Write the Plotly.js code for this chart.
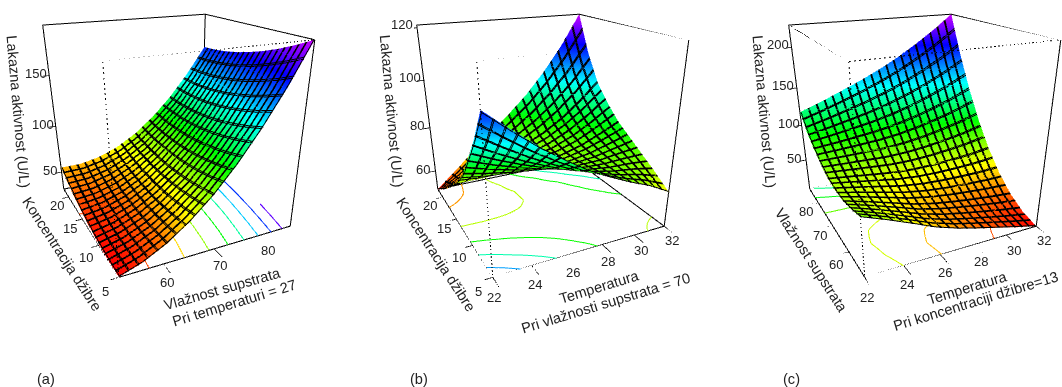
<!DOCTYPE html>
<html><head><meta charset="utf-8">
<script src="https://cdn.plot.ly/plotly-3.0.1.min.js"></script>
<style>html,body{margin:0;padding:0;background:#fff;overflow:hidden}#c{width:1062px;height:387px}</style>
</head><body><div id="c"></div>
<script>
const moistureA=[52,56.375,60.75,65.125,69.5,73.875,78.25,82.625,87];
const concA=[5,7.125,9.25,11.375,13.5,15.625,17.75,19.875,22];
const activityA=[[30,37.4,48.6,63.6,82.3,104.9,131.2,161.2,195],[30,36.5,46.8,60.8,78.7,100.3,125.7,154.8,187.8],[30.8,36.4,45.8,59,75.9,96.6,121.1,149.4,181.4],[32.6,37.3,45.8,58,74.1,93.9,117.4,144.8,175.9],[35.3,39.1,46.7,58,73.1,92,114.7,141.1,171.4],[38.9,41.7,48.4,58.9,73.1,91.1,112.8,138.4,167.7],[43.3,45.3,51.1,60.6,73.9,91,111.9,136.5,164.9],[48.7,49.8,54.7,63.3,75.7,91.9,111.8,135.6,163.1],[55,55.2,59.1,66.8,78.3,93.6,112.7,135.5,162.1]];
const tempB=[22,23.25,24.5,25.75,27,28.25,29.5,30.75,32];
const concB=[5,7.125,9.25,11.375,13.5,15.625,17.75,19.875,22];
const activityB=[[108,100.8,94,88,82.5,78,74,70.5,66],[96,90.9,86.2,82.2,78.6,76,73.9,72.5,70.5],[86,82.7,79.9,77.5,75.5,74.4,74,74.4,74.5],[76.5,75,73.9,73.1,72.6,73,74.2,76.3,78.5],[70,69.8,70.1,70.6,71.3,72.7,75.1,78.6,82.5],[64.5,65.8,67.5,69.2,71.1,73.7,77.4,82.3,88],[59.5,62.3,65.6,68.8,72,75.9,81,87.4,95],[55,59.8,65.1,70.1,75.1,80.7,87.7,96,106],[51,58.25,66,73.25,80.5,88.25,97.5,108.25,121]];
const tempC=[22,23.25,24.5,25.75,27,28.25,29.5,30.75,32];
const moistureC=[52,56.375,60.75,65.125,69.5,73.875,78.25,82.625,87];
const activityC=[[78,67,55,42.5,33,25.5,18.5,11.5,5],[72,62.3,51.8,40.9,32.8,26.7,21.2,15.9,11.3],[68,60.1,51.6,43,36.8,32.5,29,26,23.8],[67.5,61.7,55.6,49.4,45.4,43.3,42.2,41.7,42.2],[70,66.7,63.3,60,58.7,59.1,60.7,63.1,66.8],[77,76.4,76,75.7,77.2,80.4,85,90.5,97.5],[87,89.4,92.4,95.6,100.3,106.6,114.5,123.6,134.3],[100,105.9,112.6,119.6,127.9,137.7,149.4,162.3,177.1],[118,127.5,138,149,161,174.5,190,207,226]];
const xTicksA=[60,70,80],yTicksA=[5,10,15,20],zTicksA=[50,100,150];
const xTicksB=[22,24,26,28,30,32],yTicksB=[5,10,15,20],zTicksB=[60,80,100,120];
const xTicksC=[22,24,26,28,30,32],yTicksC=[60,70,80],zTicksC=[50,100,150,200];
const font={family:'Liberation Sans, Arial, sans-serif',size:14.6,color:'#222'};
const tickFont={family:'Liberation Sans, Arial, sans-serif',size:13,color:'#222'};
const cs=[[0,'#ff0000'],[.21,'#ffff00'],[.42,'#00ff00'],[.625,'#00ffff'],[.83,'#0000ff'],[1,'#cc00ff']];
const cam={aspect:[1.115,1.114,1.103],eye:{x:-1.154,y:-2.428,z:.969},center:{x:.402,y:.667,z:-.867},up:{x:0,y:0.027,z:1}};
const E=.2,N=20,CX=[178,551.5,924],HW=138;
const panels=[
{x:moistureA,y:concA,z:activityA,zr:[30,195],lev:[40,180,20],xt:xTicksA,yt:yTicksA,zt:zTicksA},
{x:tempB,y:concB,z:activityB,zr:[51,121],lev:[60,110,10],xt:xTicksB,yt:yTicksB,zt:zTicksB},
{x:tempC,y:moistureC,z:activityC,zr:[5,226],lev:[20,220,20],xt:xTicksC,yt:yTicksC,zt:zTicksC}];
const data=[],layout={width:1062,height:387,margin:{l:0,r:0,t:0,b:0},paper_bgcolor:'#fff',showlegend:false,annotations:[]};
panels.forEach((p,i)=>{
 const sc=i?'scene'+(i+1):'scene',xr=[p.x[0],p.x[p.x.length-1]],yr=[p.y[0],p.y[p.y.length-1]],zr=p.zr;
 const dx=xr[1]-xr[0],dy=yr[1]-yr[0];
 [0,.11].forEach(o=>{data.push({type:'surface',scene:sc,x:p.x,y:p.y,z:p.z,colorscale:cs,cmin:zr[0],cmax:zr[1],showscale:false,hoverinfo:'skip',hidesurface:o>0,
  lighting:{ambient:1,diffuse:0,specular:0,fresnel:0,roughness:1},
  contours:{x:{show:true,start:xr[0]+o*dx/N,end:xr[1],size:dx/N,color:'#000',width:2,highlight:false},
   y:{show:true,start:yr[0]+o*dy/N,end:yr[1],size:dy/N,color:'#000',width:2,highlight:false},
   z:{show:true,start:p.lev[0],end:p.lev[1]+1,size:p.lev[2],usecolormap:true,project:{z:true},width:2,highlight:false}}})});
 const [a,b]=xr,[c,d]=yr,[l,h]=zr;
 const line=(A,B,st)=>data.push({type:'scatter3d',scene:sc,mode:'lines',hoverinfo:'skip',x:[A[0],B[0]],y:[A[1],B[1]],z:[A[2],B[2]],line:st});
 const solid={color:'#000',width:2},thin={color:'#000',width:1.5},dots={color:'#000',width:2,dash:'dash'};
 [[[a,d,l],[a,c,l]],[[a,c,l],[b,c,l]],[[b,c,l],[b,d,l]],[[b,d,l],[a,d,l]],[[a,d,l],[a,d,h]],[[b,c,l],[b,c,h]],[[b,d,l],[b,d,h]],[[a,d,h],[b,d,h]],[[b,d,h],[b,c,h]]].forEach(s=>line(s[0],s[1],solid));
 [[[a,d,h],[a,c,h]],[[a,c,h],[b,c,h]],[[a,c,h],[a,c,l]]].forEach(s=>line(s[0],s[1],dots));
 p.xt.forEach(v=>line([v,c,l],[v,c-.08*dy,l],thin));
 p.yt.forEach(v=>line([a,v,l],[a-.04*dx,v,l],thin));
 p.zt.forEach(v=>line([a,d,v],[a-.04*dx,d,v],thin));
 const hide=r=>({range:r,showgrid:false,showline:false,zeroline:false,showticklabels:false,showbackground:false,showspikes:false,ticks:'',title:{text:''}});
 const ann=[];
 p.xt.forEach(v=>ann.push({x:v,y:c-.15*dy,z:l,text:String(v),xshift:-10,yshift:-1,showarrow:false,font:tickFont}));
 p.yt.forEach(v=>ann.push({x:a-.09*dx,y:v-.07*dy,z:l,text:String(v),showarrow:false,font:tickFont}));
 p.zt.forEach(v=>ann.push({x:a-.075*dx,y:d,z:v,text:String(v),yshift:4,showarrow:false,font:tickFont}));
 layout[sc]={domain:{x:[(CX[i]-HW)/1062,(CX[i]+HW)/1062],y:[0,1]},bgcolor:'rgba(0,0,0,0)',aspectmode:'manual',
  aspectratio:{x:cam.aspect[0]*(1+2*E),y:cam.aspect[1]*(1+2*E),z:cam.aspect[2]},
  camera:{eye:cam.eye,center:cam.center,up:cam.up},
  xaxis:hide([a-E*dx,b+E*dx]),yaxis:hide([c-E*dy,d+E*dy]),zaxis:hide(zr),annotations:ann};
});
const titles=[['Lakazna aktivnost (U/L)',18,111,85],['Koncentracija džibre',62,254,57],['Vlažnost supstrata',222,289,-16],['Pri temperaturi = 27',234,303,-17],
['Lakazna aktivnost (U/L)',391.5,111,85],['Koncentracija džibre',435.5,254,57],['Temperatura',599,287,-17],['Pri vlažnosti supstrata = 70',606,303,-17],
['Lakazna aktivnost (U/L)',764,111,85],['Vlažnost supstrata',811,260,57],['Temperatura',967,288,-17],['Pri koncentraciji džibre=13',976,301,-17],
['(a)',46,379,0],['(b)',419,379,0],['(c)',791,379,0]];
layout.annotations=titles.map(t=>({xref:'paper',yref:'paper',x:t[1]/1062,y:1-t[2]/387,text:t[0],textangle:t[3],showarrow:false,xanchor:'center',yanchor:'middle',font}));
Plotly.newPlot('c',data,layout,{displayModeBar:false,plotGlPixelRatio:1});
</script></body></html>
